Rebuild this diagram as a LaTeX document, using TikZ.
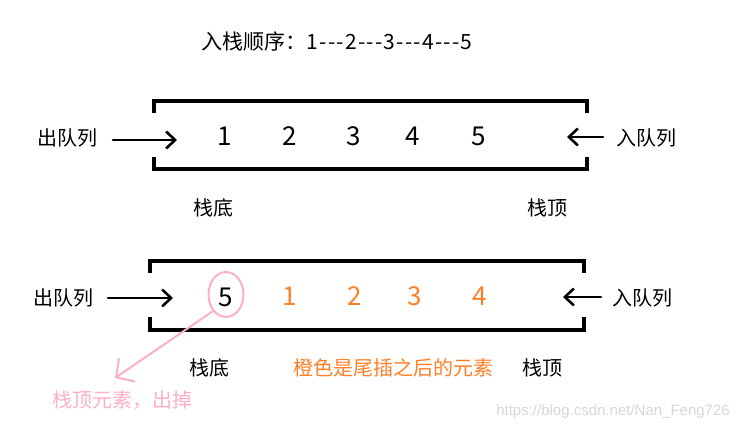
\documentclass[tikz,border=0pt]{standalone}
\usepackage{fontspec}
\setmainfont{Noto Sans CJK SC}
\newfontfamily\urlfont{Liberation Sans}
\usetikzlibrary{arrows.meta, shapes.geometric}
\definecolor{qorange}{RGB}{255,127,39}
\definecolor{qpink}{RGB}{255,174,201}
\definecolor{qgray}{RGB}{215,215,215}

\begin{document}
\begin{tikzpicture}[x=1pt, y=-1pt,
		lbl/.style={inner sep=0pt, font=\fontsize{20}{20}\selectfont},
		num/.style={inner sep=0pt, font=\fontsize{26}{26}\selectfont},
		wall/.style={line width=3.5pt},
		push/.style={line width=2.6pt, line cap=round, -{Straight Barb[length=9pt, width=17pt]}},
		pop/.style={qpink, line width=2pt, -{Straight Barb[length=13pt, width=28pt]}}]
		\useasboundingbox (0,0) rectangle (746,431);

		\node[lbl, font=\fontsize{21}{21}\selectfont] at (337,42) (title) {入栈顺序：{\addfontfeature{LetterSpace=6}1-{}-{}-2-{}-{}-3-{}-{}-4-{}-{}-5}};

		% first queue
		\draw[wall] (154,113) -- (154,101) -- (587,101) -- (587,113);
		\draw[wall] (154,157) -- (154,169) -- (587,169) -- (587,157);
		\node[lbl] at (67,138) (out1) {出队列};
		\node[lbl] at (646,138) (in1) {入队列};
		\coordinate (p1) at (113,140);
		\coordinate (q1) at (177,140);
		\coordinate (p2) at (603,137);
		\coordinate (q2) at (567,137);
		\draw[push] (p1) -- (q1);
		\draw[push] (p2) -- (q2);
		\node[num] at (225,136) (n1) {1};
		\node[num] at (290,136) (n2) {2};
		\node[num] at (354,136) (n3) {3};
		\node[num] at (413,136) (n4) {4};
		\node[num] at (479,136) (n5) {5};
		\node[lbl] at (213,208) (bot1) {栈底};
		\node[lbl] at (547,208) (top1) {栈顶};

		% second queue
		\draw[wall] (150,273) -- (150,261) -- (584,261) -- (584,273);
		\draw[wall] (150,317) -- (150,330) -- (584,330) -- (584,317);
		\node[lbl] at (63,298) (out2) {出队列};
		\node[lbl] at (642,298) (in2) {入队列};
		\coordinate (p3) at (108,298);
		\coordinate (q3) at (173,298);
		\coordinate (p4) at (601,297);
		\coordinate (q4) at (563,297);
		\draw[push] (p3) -- (q3);
		\draw[push] (p4) -- (q4);
		\node[num] at (226,297) (m5) {5};
		\node[num, qorange] at (290,296) (m1) {1};
		\node[num, qorange] at (355,296) (m2) {2};
		\node[num, qorange] at (415,296) (m3) {3};
		\node[num, qorange] at (480,296) (m4) {4};
		\node[draw=qpink, line width=2pt, ellipse, minimum width=35pt, minimum height=45pt] at (226,294.5) (ring) {};
		\node[lbl] at (209,368) (bot2) {栈底};
		\node[lbl] at (542,368) (top2) {栈顶};
		\node[lbl, qorange] at (393,368) (note) {橙色是尾插之后的元素};
		\coordinate (drop) at (115,378);
		\draw[pop] (ring.south west) -- (drop);
		\node[lbl, qpink] at (122,400) (gone) {栈顶元素，出掉};

		\node[inner sep=0pt, qgray, font=\urlfont\fontsize{15}{15}\selectfont] at (613,412) (mark) {https://blog.csdn.net/Nan\_Feng726};
		\end{tikzpicture}
\end{document}
